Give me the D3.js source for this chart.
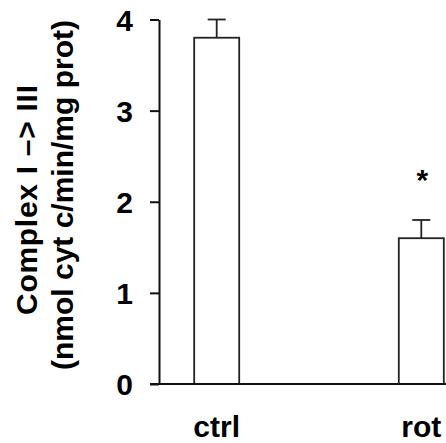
<!DOCTYPE html>
<html>
<head>
<meta charset="utf-8">
<script src="https://cdn.jsdelivr.net/npm/d3@7"></script>
<style>
  body { margin: 0; background: #fff; }
  text { font-family: "Liberation Sans", Arial, sans-serif; font-weight: bold; fill: #000; }
</style>
</head>
<body>
<div id="chart"></div>
<script>

// data
var groups = ["ctrl", "rot"];
var means = [3.8, 1.6];
var errors = [0.2, 0.2];
var marks = ["", "*"];
var yTicks = [0, 1, 2, 3, 4];
var titleLines = ["Complex I \u2013> III", "(nmol cyt c/min/mg prot)"];

var width = 446, height = 443;

var svg = d3.select("#chart")
	.append("svg")
	.attr("width", width)
	.attr("height", height);

// scales
var y = d3.scaleLinear()
	.domain([0, 4])
	.range([384, 19.5]);

var x = d3.scaleBand()
	.domain(groups)
	.range([159, 479])
	.paddingInner(0.78)
	.paddingOuter(0.172);

// bars
svg.selectAll(".bar")
	.data(groups)
	.enter().append("rect")
	.attr("class", "bar")
	.attr("x", function(d) { return x(d); })
	.attr("y", function(d, i) { return y(means[i]); })
	.attr("width", x.bandwidth())
	.attr("height", function(d, i) { return y(0) - y(means[i]); })
	.attr("fill", "#fff")
	.attr("stroke", "#222")
	.attr("stroke-width", 1.8);

// error bars
var err = svg.selectAll(".err")
	.data(groups)
	.enter().append("g")
	.attr("class", "err")
	.attr("stroke", "#222")
	.attr("stroke-width", 1.8);

err.append("line")
	.attr("x1", function(d) { return x(d) + x.bandwidth() / 2; })
	.attr("x2", function(d) { return x(d) + x.bandwidth() / 2; })
	.attr("y1", function(d, i) { return y(means[i]); })
	.attr("y2", function(d, i) { return y(means[i] + errors[i]); });

err.append("line")
	.attr("x1", function(d) { return x(d) + x.bandwidth() / 2 - 9; })
	.attr("x2", function(d) { return x(d) + x.bandwidth() / 2 + 9; })
	.attr("y1", function(d, i) { return y(means[i] + errors[i]); })
	.attr("y2", function(d, i) { return y(means[i] + errors[i]); });

// significance marks
svg.selectAll(".mark")
	.data(groups)
	.enter().append("text")
	.attr("class", "mark")
	.attr("x", function(d) { return x(d) + x.bandwidth() / 2 + 1; })
	.attr("y", function(d, i) { return y(means[i] + errors[i]) - 30; })
	.attr("text-anchor", "middle")
	.style("font-size", "30px")
	.text(function(d, i) { return marks[i]; });

// y axis
var yAxis = svg.append("g")
	.attr("transform", "translate(159,0)")
	.call(d3.axisLeft(y).tickValues(yTicks).tickFormat(d3.format("d")).tickSize(9).tickSizeOuter(0));

yAxis.select(".domain").attr("stroke", "#111").attr("stroke-width", 2);
yAxis.selectAll(".tick line").attr("stroke", "#111").attr("stroke-width", 2);
yAxis.selectAll(".tick text")
	.attr("x", -26)
	.attr("dy", "0.36em")
	.style("font-size", "30px")
	.style("font-family", "Liberation Sans, Arial, sans-serif")
	.style("font-weight", "bold");

// x axis baseline
svg.append("line")
	.attr("x1", 150)
	.attr("x2", width)
	.attr("y1", y(0))
	.attr("y2", y(0))
	.attr("stroke", "#111")
	.attr("stroke-width", 2);

// x labels
svg.selectAll(".xlab")
	.data(groups)
	.enter().append("text")
	.attr("class", "xlab")
	.attr("x", function(d) { return x(d) + x.bandwidth() / 2; })
	.attr("y", 437)
	.attr("text-anchor", "middle")
	.style("font-size", "30px")
	.text(function(d) { return d; });

// y title
svg.selectAll(".ytitle")
	.data(titleLines)
	.enter().append("text")
	.attr("class", "ytitle")
	.attr("transform", function(d, i) { return "translate(" + (37 + i * 36) + "," + (i ? 195 : 200) + ") rotate(-90)"; })
	.attr("text-anchor", "middle")
	.attr("textLength", function(d, i) { return i ? 350 : 230; })
	.attr("lengthAdjust", "spacing")
	.style("font-size", "30px")
	.text(function(d) { return d; });

</script>
</body>
</html>
